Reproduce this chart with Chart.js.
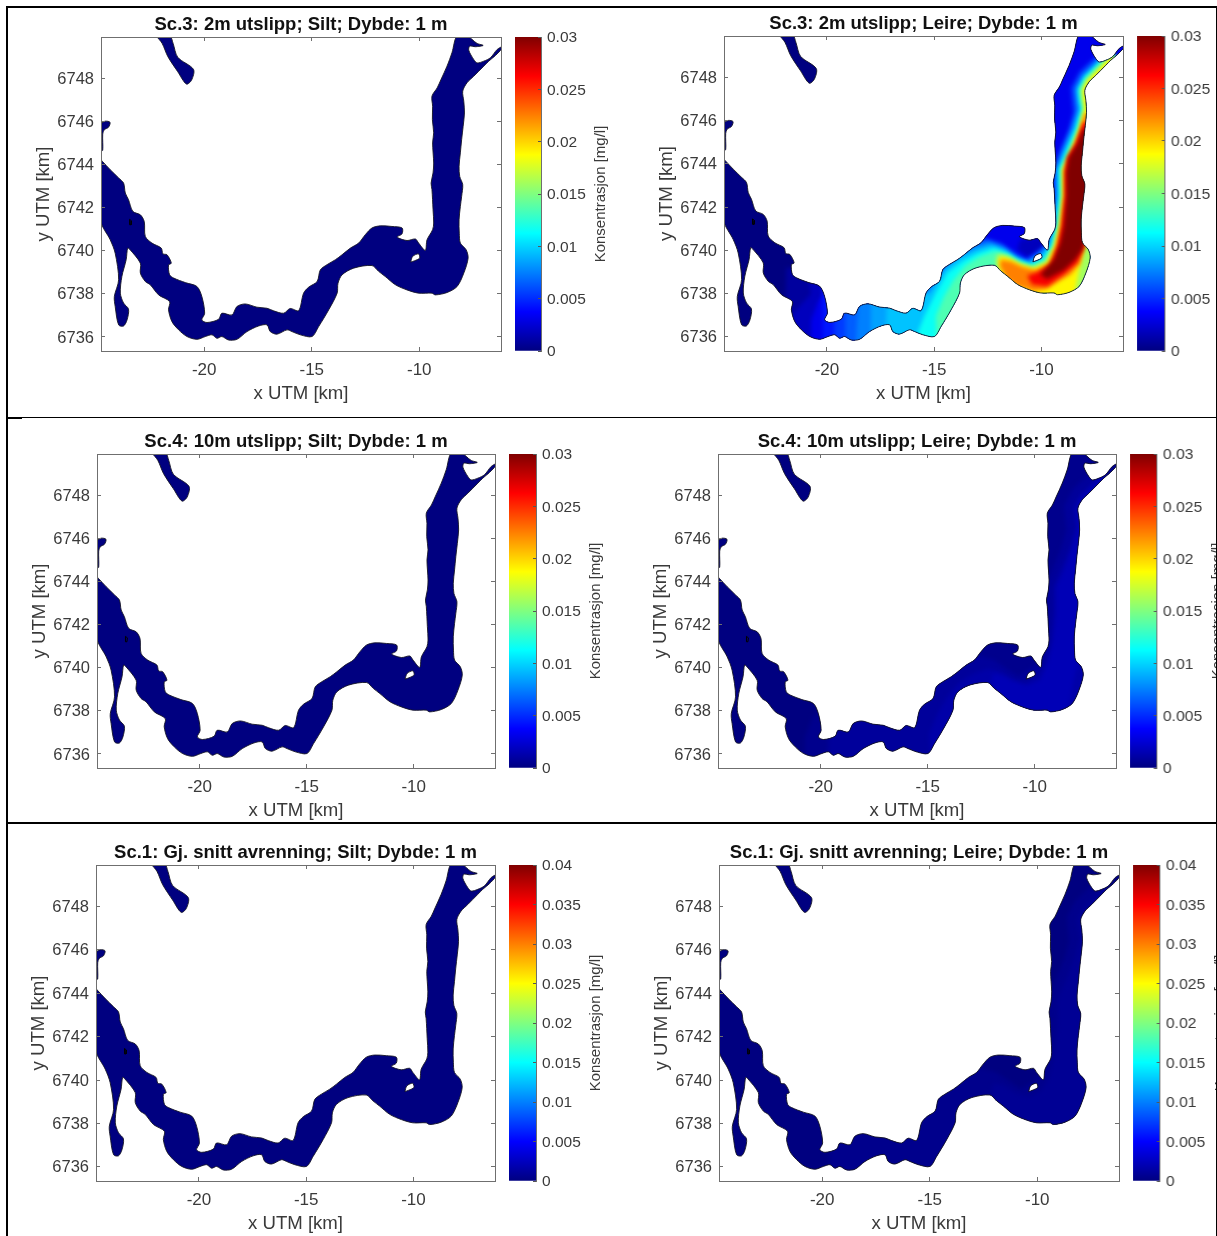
<!DOCTYPE html>
<html><head><meta charset="utf-8">
<script src="https://cdn.jsdelivr.net/npm/chart.js@4/dist/chart.umd.js"></script>
<style>
html,body{margin:0;padding:0;background:#fff;width:1217px;height:1236px;overflow:hidden}
#stage{position:absolute;left:0;top:0;width:1217px;height:1236px;filter:blur(0.4px)}
canvas{position:absolute;display:block}
.rule{position:absolute;background:#000}
</style></head><body><div id="stage"></div>
<script>
/* Shoreline in UTM km */
const fjordMain=[[-24.74,6744.14],[-24.37,6743.75],[-23.98,6743.37],[-23.75,6743.13],[-23.67,6742.67],[-23.52,6742.36],[-23.32,6741.82],[-22.97,6741.66],[-22.79,6741.35],[-22.74,6740.66],[-22.43,6740.35],[-22.0,6740.12],[-21.92,6739.85],[-21.73,6739.81],[-21.53,6739.42],[-21.66,6739.34],[-21.61,6738.88],[-21.42,6738.73],[-20.88,6738.52],[-20.34,6738.34],[-20.11,6737.87],[-19.98,6737.1],[-20.11,6736.79],[-19.87,6736.67],[-19.33,6736.82],[-19.18,6737.1],[-18.71,6737.02],[-18.48,6737.41],[-18.09,6737.53],[-17.55,6737.38],[-17.08,6737.33],[-16.77,6737.21],[-16.31,6737.1],[-16.0,6737.32],[-15.61,6737.22],[-15.38,6738.03],[-15.14,6738.31],[-14.75,6738.57],[-14.6,6739.11],[-14.29,6739.35],[-13.9,6739.58],[-13.59,6739.81],[-13.2,6740.12],[-12.82,6740.35],[-12.51,6740.74],[-12.2,6741.05],[-11.81,6741.15],[-11.27,6741.12],[-10.8,6741.05],[-10.8,6740.78],[-11.03,6740.63],[-10.57,6740.47],[-10.18,6740.54],[-10.03,6740.35],[-9.72,6740.01],[-9.64,6740.5],[-9.38,6740.97],[-9.33,6741.28],[-9.36,6741.9],[-9.41,6742.83],[-9.45,6743.13],[-9.36,6743.6],[-9.33,6744.06],[-9.38,6744.99],[-9.33,6745.46],[-9.39,6746.07],[-9.38,6746.69],[-9.41,6747.16],[-9.17,6747.54],[-8.99,6747.93],[-8.71,6748.55],[-8.48,6749.17],[-8.24,6749.97],[-7.78,6749.97],[-7.55,6749.79],[-7.31,6749.6],[-7.03,6749.51],[-7.39,6749.45],[-7.65,6749.48],[-7.7,6749.29],[-7.47,6748.86],[-7.31,6748.7],[-7.0,6748.78],[-6.69,6748.94],[-6.38,6749.32],[-6.15,6749.45],[-6.15,6749.37],[-6.46,6749.04],[-6.77,6748.78],[-7.0,6748.55],[-7.47,6748.08],[-7.78,6747.78],[-7.98,6747.39],[-7.93,6746.92],[-7.9,6746.38],[-7.96,6745.76],[-8.03,6745.15],[-8.09,6744.53],[-8.15,6743.91],[-8.12,6743.44],[-7.98,6743.06],[-8.03,6742.52],[-8.09,6742.05],[-8.15,6741.43],[-8.14,6740.81],[-8.09,6740.35],[-7.82,6740.04],[-7.73,6739.65],[-7.93,6738.96],[-8.24,6738.34],[-8.71,6738.06],[-9.25,6737.95],[-9.41,6738.03],[-10.03,6738.03],[-10.57,6738.18],[-11.11,6738.42],[-11.58,6738.8],[-11.89,6739.04],[-12.2,6739.31],[-13.05,6739.19],[-13.59,6738.88],[-13.78,6738.49],[-13.82,6738.03],[-14.21,6737.26],[-14.68,6736.48],[-14.99,6736.02],[-15.53,6736.1],[-15.92,6736.25],[-16.15,6736.33],[-16.62,6736.13],[-16.93,6736.25],[-17.08,6736.56],[-17.47,6736.51],[-18.01,6736.25],[-18.48,6735.89],[-18.87,6735.86],[-19.18,6736.02],[-19.41,6735.94],[-19.64,6736.1],[-19.95,6736.02],[-20.34,6735.89],[-20.8,6736.02],[-21.19,6736.33],[-21.5,6736.71],[-21.66,6737.26],[-21.61,6737.64],[-22.12,6737.95],[-22.51,6738.42],[-22.74,6738.57],[-22.97,6738.96],[-22.97,6739.42],[-23.47,6740.07],[-23.56,6740.12],[-23.63,6739.58],[-23.83,6738.8],[-23.9,6738.03],[-23.75,6737.57],[-23.52,6737.29],[-23.59,6736.79],[-23.75,6736.51],[-23.98,6736.56],[-24.14,6737.41],[-24.18,6737.87],[-23.98,6738.65],[-24.14,6739.88],[-24.37,6740.5],[-24.8,6741.35],[-24.8,6744.2]];
const fjordNorth=[[-22.24,6749.95],[-21.6,6749.95],[-21.45,6749.61],[-21.23,6748.96],[-20.5,6748.4],[-20.59,6747.9],[-20.83,6747.72],[-21.23,6748.29],[-21.69,6748.99],[-21.96,6749.61]];
const fjordWest=[[-24.8,6745.9],[-24.6,6746],[-24.38,6745.95],[-24.45,6745.72],[-24.65,6745.6],[-24.72,6745.4],[-24.72,6744.65],[-24.8,6744.65]];
const fjordHole=[[-10.4,6739.47],[-10.31,6739.73],[-10.04,6739.85],[-9.98,6739.66],[-10.22,6739.53]];
const fjordSpeck=[[-23.47,6741.45],[-23.38,6741.38],[-23.40,6741.2],[-23.47,6741.2]];

/* Concentration contours */
const seaExtent=[[-30,6730],[0,6730],[0,6755],[-30,6755]];
const contour15=[[-21.9,6739.2],[-19.5,6739.2],[-14,6742],[-11,6742],[-10,6750.5],[-5,6750.5],[-5,6735],[-22,6735]];
const contour25=[[-20.83,6738.46],[-20.74,6738.0],[-21.45,6737.22],[-21.8,6736.76],[-21.63,6735.67],[-21.6,6735],[-5,6735],[-5,6750.5],[-10,6750.5],[-11,6742],[-14,6742],[-19.5,6739]];
const contour38=[[-20.39,6737.69],[-20.74,6736.76],[-20.74,6735],[-5,6735],[-5,6750.5],[-10,6750.5],[-11,6742],[-14,6742],[-19,6739]];
const contourCove=[[-10.98,6740.5],[-9.58,6740.66],[-9.66,6740.04],[-10.2,6739.89],[-10.59,6739.65],[-11.13,6740.04]];
const contourShore=[[-9.7,6744.5],[-9.3,6744.5],[-9.45,6742],[-9.6,6741],[-9.8,6741],[-9.8,6744]];
const channel47=[[-20.2,6739],[-15.8,6739],[-15.8,6735],[-20.2,6735]];
const contour55=[[-7.2,6749.2],[-7.93,6748.54],[-8.24,6748.24],[-8.63,6747.5],[-8.58,6746.92],[-8.52,6746.38],[-8.73,6745.61],[-9.12,6744.68],[-9.46,6743.75],[-9.43,6742.52],[-9.55,6741.12],[-9.89,6740.2],[-10.28,6739.89],[-10.75,6739.58],[-11.21,6739.89],[-11.91,6740.35],[-12.68,6740.58],[-13.46,6740.35],[-14.54,6739.58],[-15.47,6738.5],[-16.5,6738],[-19.6,6738.2],[-19.7,6735],[-5,6735],[-5,6748.2],[-6.72,6749]];
const channel65=[[-19.15,6739],[-15.8,6739],[-15.8,6735],[-19.15,6735]];
const contour75=[[-7.1,6749.1],[-7.8,6748.42],[-8.12,6748.12],[-8.46,6747.46],[-8.41,6746.92],[-8.36,6746.46],[-8.62,6745.61],[-9.04,6744.6],[-9.35,6743.75],[-9.33,6742.52],[-9.47,6741.12],[-9.77,6740.2],[-10.17,6739.81],[-10.67,6739.5],[-11.21,6739.76],[-11.83,6740.2],[-12.5,6740.43],[-13.3,6740.2],[-14.39,6739.42],[-15.32,6738.26],[-16.5,6737.9],[-18.5,6738.2],[-18.7,6735],[-5,6735],[-5,6748.2],[-6.72,6749]];
const channel85=[[-17.95,6739],[-15.8,6739],[-15.8,6735],[-17.95,6735]];
const contour95=[[-7.03,6749.03],[-7.72,6748.33],[-8.03,6748.03],[-8.34,6747.44],[-8.29,6746.92],[-8.24,6746.5],[-8.5,6745.61],[-8.96,6744.53],[-9.26,6743.75],[-9.24,6742.52],[-9.4,6741.12],[-9.66,6740.2],[-10.05,6739.73],[-10.59,6739.42],[-11.21,6739.65],[-11.75,6740.04],[-12.37,6740.27],[-13.15,6740.04],[-13.92,6739.65],[-14.54,6739.11],[-15.24,6738.03],[-17.2,6738],[-17.3,6735],[-5,6735],[-5,6748.2],[-6.72,6749]];
const contour115=[[-6.97,6748.98],[-7.67,6748.28],[-7.98,6747.98],[-8.26,6747.43],[-8.21,6746.92],[-8.13,6746.54],[-8.39,6745.61],[-8.87,6744.5],[-9.16,6743.75],[-9.15,6742.52],[-9.3,6741.12],[-9.55,6740.2],[-9.92,6739.62],[-10.51,6739.35],[-11.13,6739.58],[-11.68,6739.92],[-12.22,6740.12],[-13,6739.86],[-13.69,6739.5],[-14.39,6738.96],[-14.93,6738.03],[-15.47,6736.95],[-15.78,6736.17],[-15.9,6735],[-5,6735],[-5,6748.2],[-6.72,6749]];
const contour135=[[-6.93,6748.93],[-7.62,6748.23],[-7.93,6747.93],[-8.2,6747.43],[-8.15,6746.92],[-8.06,6746.54],[-8.31,6745.61],[-8.81,6744.45],[-9.1,6743.75],[-9.09,6742.52],[-9.24,6741.12],[-9.47,6740.2],[-9.86,6739.55],[-10.48,6739.27],[-11.1,6739.48],[-11.6,6739.81],[-12.19,6739.96],[-12.92,6739.69],[-13.54,6739.3],[-14.08,6738.65],[-14.54,6737.88],[-14.93,6736.95],[-14.85,6735],[-5,6735],[-5,6748.2],[-6.72,6749]];
const contour160=[[-6.89,6748.9],[-7.59,6748.2],[-7.9,6747.9],[-8.15,6747.42],[-8.1,6746.92],[-8.02,6746.54],[-8.27,6745.61],[-8.75,6744.4],[-9.06,6743.75],[-9.04,6742.52],[-9.2,6741.12],[-9.43,6740.2],[-9.8,6739.49],[-10.42,6739.22],[-11.06,6739.42],[-11.57,6739.73],[-12.03,6739.86],[-12.14,6739.58],[-12.06,6739.11],[-11.29,6738.03],[-10,6737],[-5,6737],[-5,6748.2],[-6.72,6749]];
const contour190=[[-6.84,6748.85],[-7.54,6748.15],[-7.85,6747.85],[-8.07,6747.4],[-8.02,6746.92],[-7.98,6746.54],[-8.22,6745.61],[-8.68,6744.37],[-8.99,6743.75],[-8.99,6742.52],[-9.15,6741.12],[-9.38,6740.2],[-9.74,6739.42],[-10.36,6739.16],[-10.98,6739.35],[-11.51,6739.64],[-11.94,6739.73],[-12.03,6739.42],[-11.83,6738.8],[-11.13,6738.03],[-10.05,6737.72],[-8.5,6737.72],[-8.27,6738.96],[-8.11,6739.73],[-7.99,6740.2],[-7.5,6741],[-6,6747],[-6.72,6749]];
const contour225=[[-8,6746.31],[-8.15,6745.61],[-8.62,6744.34],[-8.95,6743.75],[-8.95,6742.52],[-9.1,6741.12],[-9.32,6740.2],[-9.66,6739.38],[-10.28,6739.08],[-10.9,6739.24],[-11.44,6739.5],[-11.91,6739.58],[-11.94,6739.27],[-11.6,6738.65],[-11.13,6738.34],[-10.36,6738.11],[-9.74,6738.22],[-9.2,6738.57],[-8.65,6738.88],[-8.19,6739.42],[-8.06,6740.04],[-7.5,6742],[-7.5,6746.3]];
const contour265=[[-8.06,6745.92],[-8.42,6744.91],[-8.81,6744.3],[-8.9,6743.6],[-8.9,6742.52],[-9.06,6741.12],[-9.24,6740.2],[-9.58,6739.33],[-10.2,6738.99],[-10.67,6738.83],[-10.44,6738.42],[-9.74,6738.34],[-8.96,6738.88],[-8.34,6739.42],[-8.06,6740.04],[-7.5,6742],[-7.5,6745.9]];
const contour300=[[-8.06,6745.61],[-8.34,6744.91],[-8.73,6744.3],[-8.85,6743.6],[-8.84,6742.52],[-8.96,6741.12],[-9.12,6740.35],[-9.43,6739.58],[-10.05,6738.88],[-9.74,6738.68],[-8.96,6739.08],[-8.42,6739.58],[-8.09,6740.04],[-7.5,6742],[-7.5,6745.6]];

const xTicks=[-20,-15,-10];
const yTicks=[6736,6738,6740,6742,6744,6746,6748];
const cbTicks03=[0,0.005,0.01,0.015,0.02,0.025,0.03];
const cbTicks04=[0,0.005,0.01,0.015,0.02,0.025,0.03,0.035,0.04];
const jetStops=[[0,'#000080'],[0.125,'#0000ff'],[0.375,'#00ffff'],[0.625,'#ffff00'],[0.875,'#ff0000'],[1,'#800000']];

const bandsLeire3=[[contour15,0.0009],[contour25,0.0018],[contour38,0.0032],[contourCove,0.0018],[contourShore,0.0025],[channel47,0.0044],[contour55,0.0055],[channel65,0.0065],[contour75,0.0075],[channel85,0.0085],[contour95,0.0095],[contour115,0.0115],[contour135,0.0135],[contour160,0.016],[contour190,0.019],[contour225,0.0225],[contour265,0.0265],[contour300,0.03]];
const bandsLeire4=[[contour38,0.0004],[contour55,0.0008],[contour135,0.0012],[contour190,0.0016]];
const bandsLeire1=[[contour55,0.0005],[contour160,0.0008]];
const bandsNone=[];

const panels=[
 {title:'Sc.3: 2m utslipp; Silt; Dybde: 1 m',L:101,R:501,T:37,B:351,cbL:515,cbR:541,max:0.03,ticks:cbTicks03,label:true,bands:bandsNone},
 {title:'Sc.3: 2m utslipp; Leire; Dybde: 1 m',L:724,R:1123,T:36,B:351,cbL:1137,cbR:1165,max:0.03,ticks:cbTicks03,label:false,bands:bandsLeire3},
 {title:'Sc.4: 10m utslipp; Silt; Dybde: 1 m',L:97,R:495,T:454,B:768,cbL:509,cbR:536,max:0.03,ticks:cbTicks03,label:true,bands:bandsNone},
 {title:'Sc.4: 10m utslipp; Leire; Dybde: 1 m',L:718,R:1116,T:454,B:768,cbL:1130,cbR:1157,max:0.03,ticks:cbTicks03,label:true,bands:bandsLeire4},
 {title:'Sc.1: Gj. snitt avrenning; Silt; Dybde: 1 m',L:96,R:495,T:865,B:1181,cbL:509,cbR:536,max:0.04,ticks:cbTicks04,label:true,bands:bandsNone},
 {title:'Sc.1: Gj. snitt avrenning; Leire; Dybde: 1 m',L:719,R:1119,T:865,B:1181,cbL:1133,cbR:1160,max:0.04,ticks:cbTicks04,label:true,bands:bandsLeire1}
];
const FONT='"Liberation Sans", Arial, sans-serif';
const AXIS='#6f6f6f', TEXT='#3a3a3a';
const xRange=[-24.8,-6.2], yRange=[6735.35,6749.9];

function jet(v,max){
  const t=Math.max(0,Math.min(1,v/max)),c=x=>Math.round(255*Math.max(0,Math.min(1,x)));
  return `rgb(${c(Math.min(4*t-1.5,-4*t+4.5))},${c(Math.min(4*t-0.5,-4*t+3.5))},${c(Math.min(4*t+0.5,-4*t+2.5))})`;
}
const pts=a=>a.concat([a[0]]).map(p=>({x:p[0],y:p[1]}));

/* The sea fills are clipped to the shoreline lines of the same chart: start runs before the filler, end after it */
const filler=Chart.registry.getPlugin('filler');
Chart.unregister(filler);
Chart.register({id:'seaClipStart',beforeDatasetsDraw(chart){
  if(!chart.canvas.classList.contains('map'))return;
  const ctx=chart.ctx;
  ctx.save();ctx.beginPath();
  chart.getSortedVisibleDatasetMetas().forEach(meta=>{
    if(!chart.data.datasets[meta.index].isShore)return;
    meta.dataset.updateControlPoints(chart.chartArea,'x');
    meta.dataset.path(ctx);
    ctx.closePath();
  });
  ctx.clip('evenodd');
  ctx.filter=chart.canvas.dataset.soft==='1'?'blur(2.2px)':'none';
}});
Chart.register(filler);
Chart.register({id:'seaClipEnd',beforeDatasetsDraw(chart){
  if(chart.canvas.classList.contains('map'))chart.ctx.restore();
}});

const stage=document.getElementById('stage');
function addCanvas(l,t,w,h,cls){
  const c=document.createElement('canvas');
  c.width=w;c.height=h;c.style.cssText=`left:${l}px;top:${t}px;width:${w}px;height:${h}px`;
  if(cls)c.className=cls;
  stage.appendChild(c);return c;
}
function rule(l,t,w,h){const d=document.createElement('div');d.className='rule';d.style.cssText=`left:${l}px;top:${t}px;width:${w}px;height:${h}px`;stage.appendChild(d);}
rule(6,6,2,1230);rule(6,6,1211,1.5);rule(1215.5,6,1.5,1230);
rule(6,417,16,2);rule(6,417,1211,1);rule(6,822,16,2);rule(6,822,1211,1.5);

const edge=(extra)=>Object.assign({
  grid:{drawOnChartArea:false,drawTicks:true,tickLength:-4,tickColor:AXIS,z:1},
  border:{color:AXIS,width:1,z:1}
},extra);

panels.forEach(p=>{
  const leftW=68,topH=24,botH=54,pad=3;
  const c=addCanvas(p.L-leftW,p.T-topH,leftW+p.R-p.L+pad,topH+p.B-p.T+botH+pad,'map');
  c.dataset.soft=p.bands.length?'1':'0';
  const datasets=[];
  const fillSet=(poly,color)=>({data:pts(poly),showLine:true,pointRadius:0,tension:0,borderWidth:0,backgroundColor:color,fill:'shape'});
  datasets.push(fillSet(seaExtent,jet(0,p.max)));
  p.bands.forEach(b=>datasets.push(fillSet(b[0],jet(b[1],p.max))));
  [fjordMain,fjordNorth,fjordWest,fjordHole].forEach(poly=>datasets.push({data:pts(poly),isShore:true,showLine:true,pointRadius:0,tension:0.3,borderWidth:0.9,borderColor:'#151525',fill:false}));
  datasets.push({data:pts(fjordSpeck),showLine:true,pointRadius:0,tension:0,borderWidth:1,borderColor:'#000',fill:false});
  datasets.forEach((d,i)=>{d.order=datasets.length-i;});
  new Chart(c,{type:'scatter',data:{datasets},options:{
    responsive:false,animation:false,events:[],
    layout:{padding:{left:0,right:pad,top:0,bottom:pad}},
    plugins:{legend:{display:false},tooltip:{enabled:false},filler:{drawTime:'beforeDatasetsDraw',propagate:false},
      title:{display:true,text:p.title,fullSize:false,color:'#111',font:{family:FONT,size:18.5,weight:'bold',lineHeight:1.2},padding:{top:1,bottom:topH-23.2}}},
    scales:{
      x:edge({type:'linear',position:'bottom',min:xRange[0],max:xRange[1],afterBuildTicks(a){a.ticks=xTicks.map(v=>({value:v}));},afterFit(a){a.height=botH;},
        ticks:{color:TEXT,font:{family:FONT,size:17},padding:13,maxRotation:0,autoSkip:false,callback:v=>String(v)},
        title:{display:true,text:'x UTM [km]',color:TEXT,font:{family:FONT,size:18.6},padding:0}}),
      y:edge({type:'linear',position:'left',min:yRange[0],max:yRange[1],afterBuildTicks(a){a.ticks=yTicks.map(v=>({value:v}));},afterFit(a){a.width=leftW;},
        ticks:{color:TEXT,font:{family:FONT,size:16.5},padding:11,labelOffset:1,autoSkip:false,callback:v=>String(v)},
        title:{display:true,text:'y UTM [km]',color:TEXT,font:{family:FONT,size:18.6},padding:0}}),
      xTop:edge({type:'linear',position:'top',min:xRange[0],max:xRange[1],afterBuildTicks(a){a.ticks=xTicks.map(v=>({value:v}));},afterFit(a){a.height=0;},ticks:{display:false}}),
      yRight:edge({type:'linear',position:'right',min:yRange[0],max:yRange[1],afterBuildTicks(a){a.ticks=yTicks.map(v=>({value:v}));},afterFit(a){a.width=0;},ticks:{display:false}})
    }
  }});

  const cbPadL=2,cbPadV=24,cbW=p.cbR-p.cbL,fullW=cbPadL+cbW+76;
  const w=Math.min(fullW,1215.5-(p.cbL-cbPadL));
  const cb=addCanvas(p.cbL-cbPadL,p.T-cbPadV,w,p.B-p.T+2*cbPadV);
  new Chart(cb,{type:'bar',data:{labels:['c'],datasets:[{data:[[0,p.max]],barPercentage:1,categoryPercentage:1,borderWidth:0,
      backgroundColor(ctx){
        const a=ctx.chart.chartArea;if(!a)return '#000080';
        const g=ctx.chart.ctx.createLinearGradient(0,a.bottom,0,a.top);
        jetStops.forEach(s=>g.addColorStop(s[0],s[1]));return g;
      }}]},
    options:{responsive:false,animation:false,events:[],
      layout:{padding:{left:cbPadL,right:0,top:cbPadV,bottom:cbPadV}},
      plugins:{legend:{display:false},tooltip:{enabled:false},title:{display:false}},
      scales:{
        x:{display:false},
        y:{type:'linear',position:'right',min:0,max:p.max,afterBuildTicks(a){a.ticks=p.ticks.map(v=>({value:v}));},afterFit(a){a.width=w-cbPadL-cbW;},
          grid:{drawOnChartArea:false,tickLength:-3,tickColor:'#555',z:1},border:{color:AXIS,width:1,z:1},
          ticks:{color:TEXT,font:{family:FONT,size:15.5},padding:9,labelOffset:1,autoSkip:false,callback:v=>String(v)}}
      }},
    plugins:[{id:'cbLabel',afterDraw(chart){
      if(!p.label)return;
      const a=chart.chartArea,ctx=chart.ctx;
      ctx.save();ctx.translate(a.right+60,(a.top+a.bottom)/2);ctx.rotate(-Math.PI/2);
      ctx.font='15px '+FONT;ctx.fillStyle=TEXT;ctx.textAlign='center';ctx.textBaseline='middle';
      ctx.fillText('Konsentrasjon [mg/l]',0,0);ctx.restore();
    }}]
  });
});
</script></body></html>
